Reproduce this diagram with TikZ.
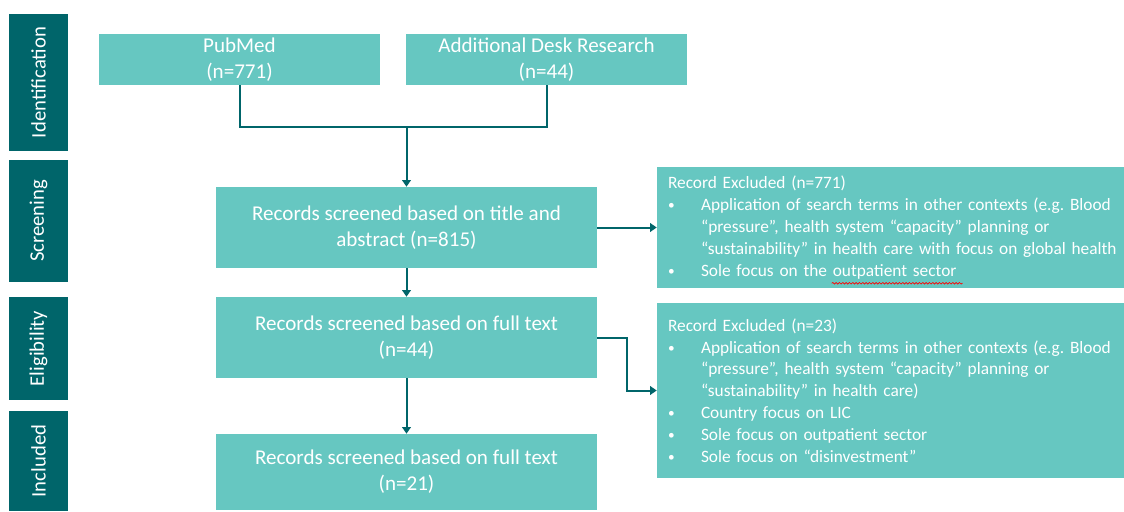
\documentclass[tikz,border=0pt]{standalone}
\usepackage{fontspec}
\setmainfont{Carlito}
\usetikzlibrary{arrows.meta,decorations.pathmorphing}

\definecolor{tealbox}{HTML}{66C7C1}
\definecolor{tealdark}{HTML}{00656A}

\newcommand{\bul}{\makebox[24.75pt][l]{\raisebox{0.6pt}{\fontsize{10}{10}\selectfont\textbullet}}}
\newcommand{\cont}{\hspace*{24.75pt}}
\frenchspacing

\tikzset{
  phase/.style={fill=tealdark, text=white, rotate=90, inner sep=0pt,
    minimum height=44.25pt, font=\fontsize{15.5}{18}\selectfont},
  stepbox/.style={fill=tealbox, text=white, inner sep=0pt, align=center,
    font=\fontsize{15.8}{19.5}\selectfont},
  exclbox/.style={fill=tealbox, text=white, inner xsep=8.25pt, inner ysep=0pt,
    align=left, text width=333.75pt, minimum width=350.25pt,
    font=\fontsize{13}{16.4}\selectfont},
  link/.style={draw=tealdark, line width=1.5pt},
  arrow/.style={link, -{Triangle[width=6.5pt,length=5pt]}},
  spellwave/.style={draw=red, line width=0.5pt, decorate,
    decoration={snake, amplitude=0.6pt, segment length=2.5pt}}
}

\begin{document}
\begin{tikzpicture}[x=0.75pt, y=-0.75pt]
  \useasboundingbox (0,0) rectangle (1124,511);

  % phases on the left
  \node[phase, minimum width=102.75pt] (identification) at (38.5, 82.5) {Identification};
  \node[phase, minimum width=91.5pt] (screening) at (38.5, 221) {Screening};
  \node[phase, minimum width=77.25pt] (eligibility) at (38.5, 348.5) {Eligibility};
  \node[phase, minimum width=75pt] (included) at (38.5, 461) {Included};

  % sources
  \node[stepbox, minimum width=210.75pt, minimum height=38.25pt] (pubmed) at (239.5, 59.5) {PubMed\\(n=771)};
  \node[stepbox, minimum width=210.75pt, minimum height=38.25pt] (desk) at (546.5, 59.5) {Additional Desk Research\\(n=44)};

  % screening steps
  \node[stepbox, minimum width=285.75pt, minimum height=60.75pt] (title) at (406.5, 227.5) {Records screened based on title and\\abstract (n=815)};
  \node[stepbox, minimum width=285.75pt, minimum height=60.75pt] (fulltext) at (406.5, 337.5) {Records screened based on full text\\(n=44)};
  \node[stepbox, minimum width=285.75pt, minimum height=57pt] (final) at (406.5, 472) {Records screened based on full text\\(n=21)};

  % exclusions
  \node[exclbox, minimum height=90.75pt] (exclone) at (890.5, 227.5) {Record Excluded (n=771)\\
    \bul Application of search terms in other contexts (e.g. Blood\\
    \cont ``pressure'', health system ``capacity'' planning or\\
    \cont\rlap{``sustainability'' in health care with focus on global health}\\
    \bul Sole focus on the outpatient sector};
  \node[exclbox, minimum height=131.25pt] (excltwo) at (890.5, 390.5) {Record Excluded (n=23)\\
    \bul Application of search terms in other contexts (e.g. Blood\\
    \cont ``pressure'', health system ``capacity'' planning or\\
    \cont ``sustainability'' in health care)\\
    \bul Country focus on LIC\\
    \bul Sole focus on outpatient sector\\
    \bul Sole focus on ``disinvestment''};
  % spell-check mark under "outpatient sector"
  \draw[spellwave] ([shift={(175,-5)}]exclone.south west) -- ([shift={(306,-5)}]exclone.south west);

  % connectors
  \coordinate (join) at (406.5, 127);
  \draw[link] (pubmed.south) |- (join) -| (desk.south);
  \draw[arrow] (join) -- (title.north);
  \draw[arrow] (title.south) -- (fulltext.north);
  \draw[arrow] (fulltext.south) -- (final.north);
  \draw[arrow] (title.east) -- (exclone.west);
  \draw[arrow] (fulltext.east) -- ++(30,0) |- (excltwo.west);
\end{tikzpicture}
\end{document}
